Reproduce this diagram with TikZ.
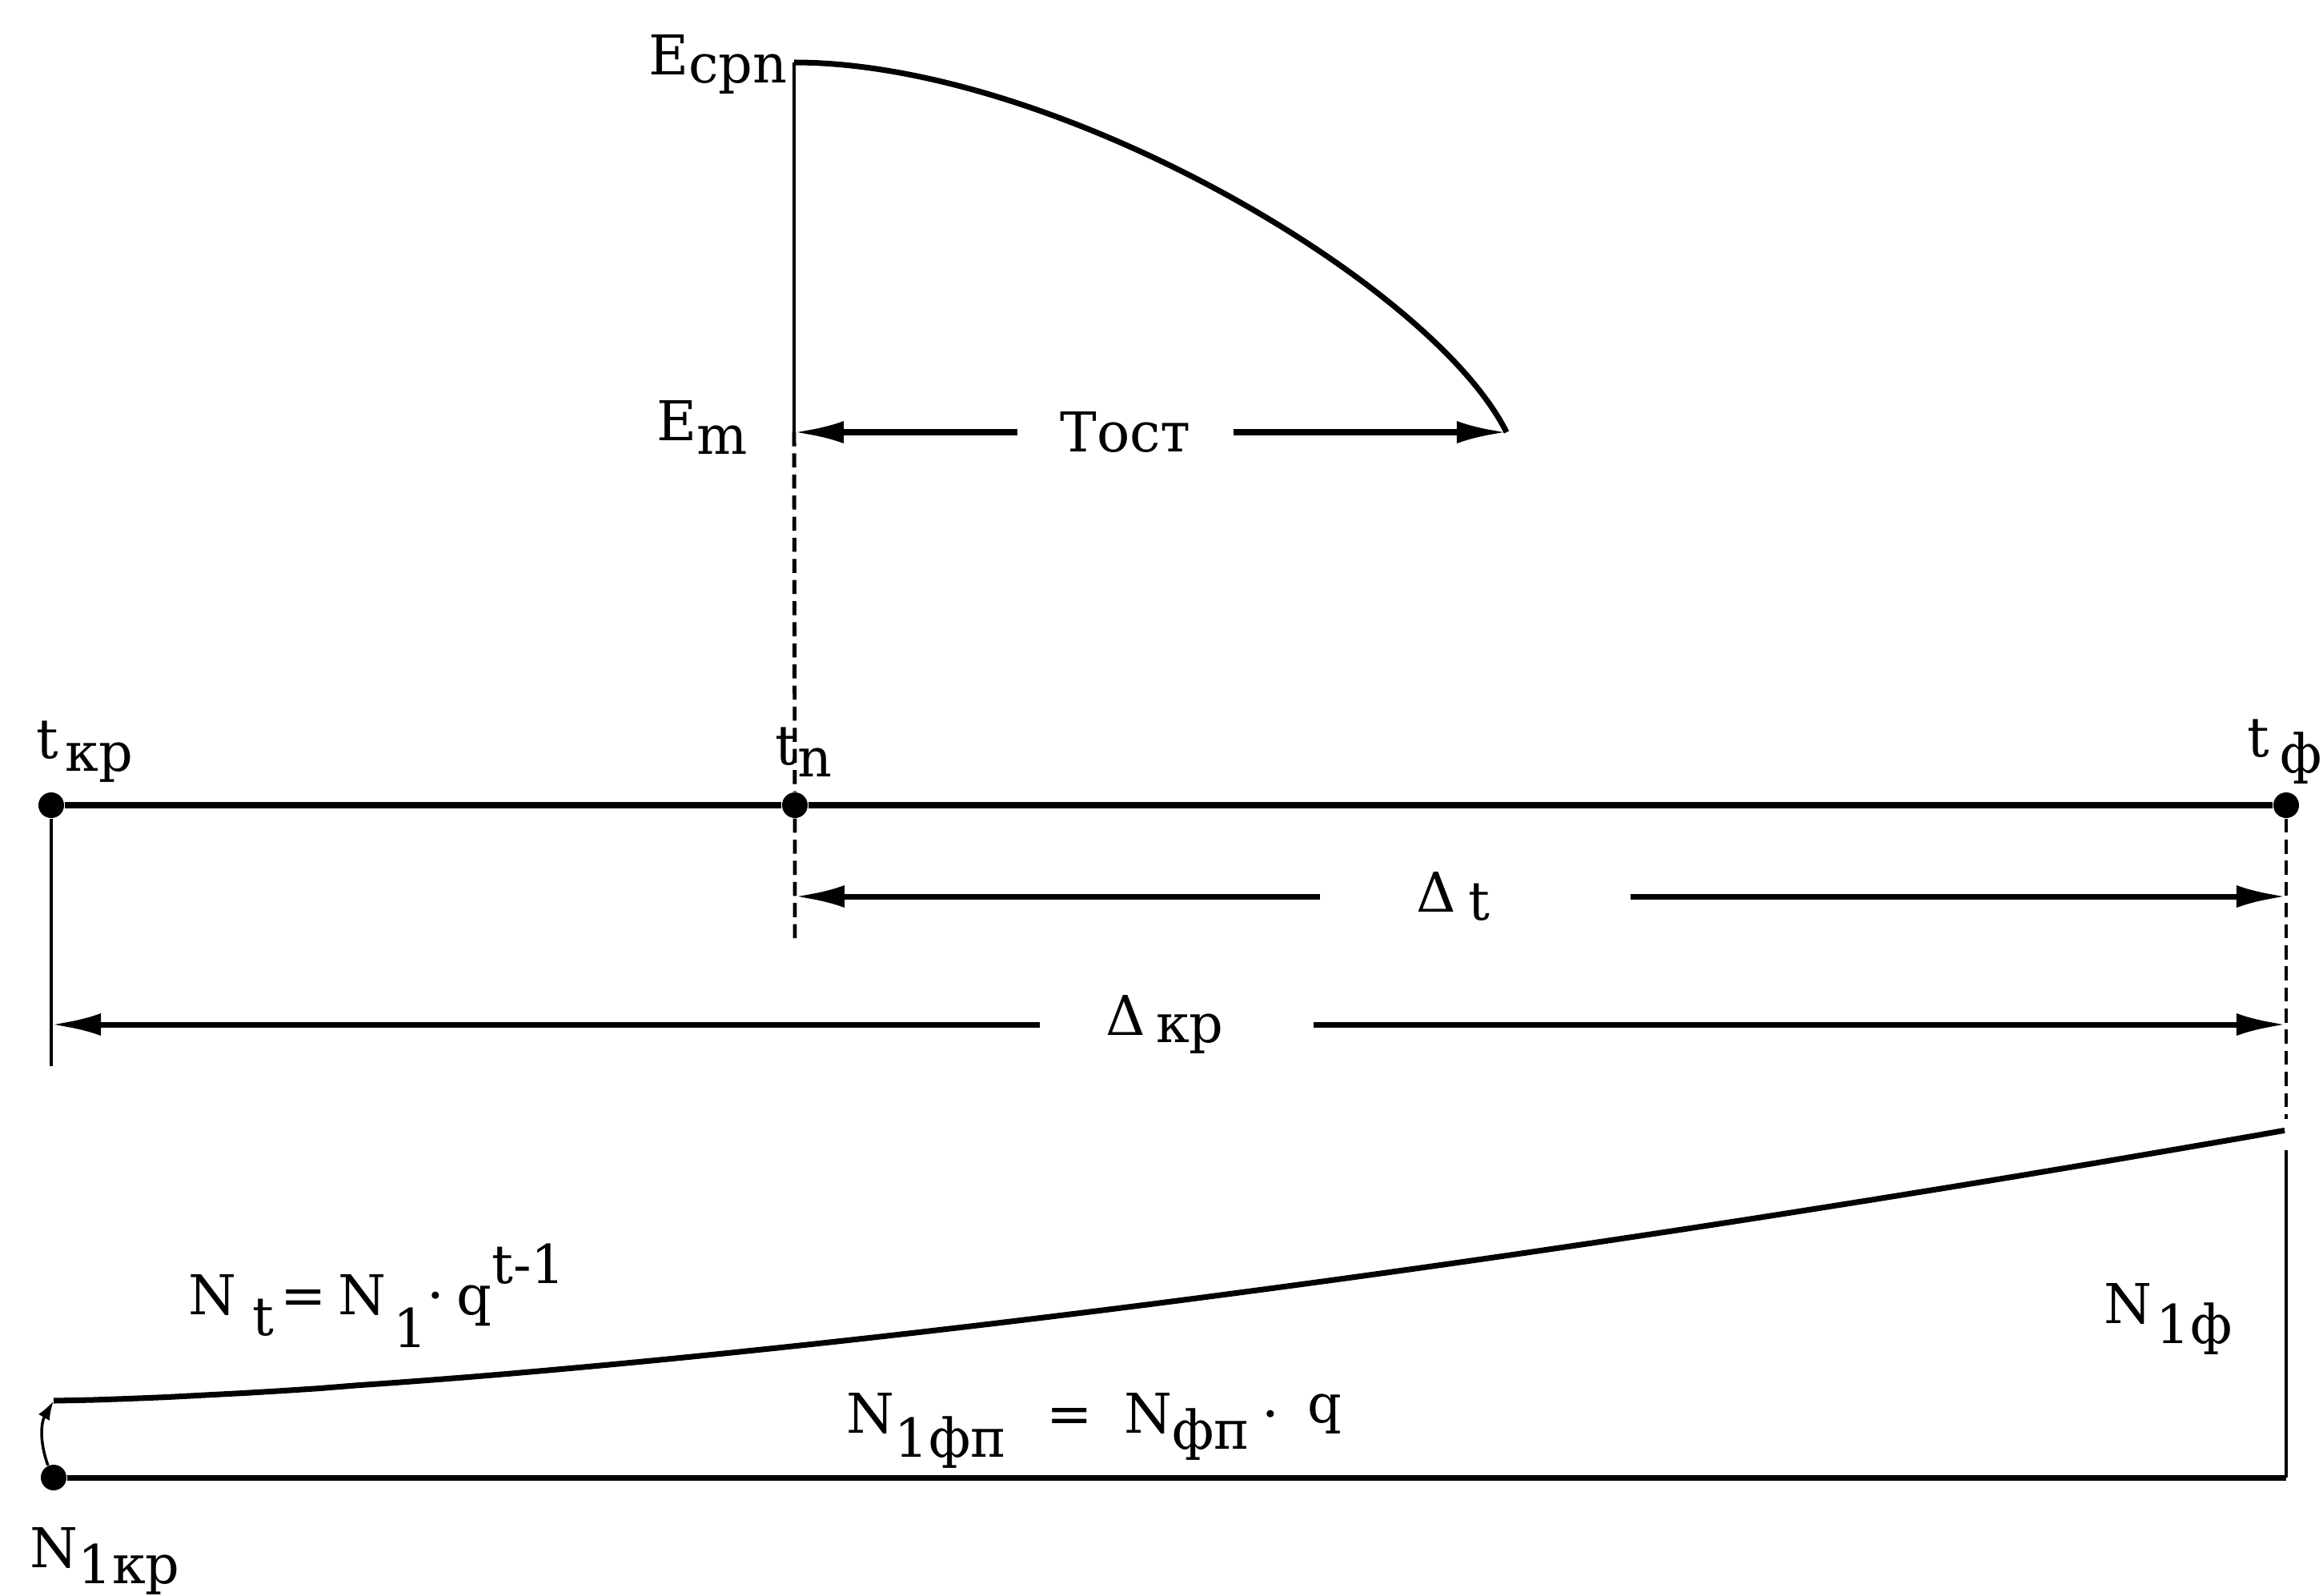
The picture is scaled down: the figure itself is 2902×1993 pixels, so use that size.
\documentclass[tikz,border=0pt]{standalone}
\usepackage{fontspec}
\setmainfont{DejaVu Serif}
\usetikzlibrary{arrows.meta,positioning}
\newcommand{\dn}[2][0.2]{\raisebox{-#1cm}{\fontsize{19}{19}\selectfont #2}}
\newcommand{\up}[2][0.35]{\raisebox{#1cm}{\fontsize{19}{19}\selectfont #2}}

\begin{document}
\begin{tikzpicture}[x=0.01cm,y=-0.01cm,
      font=\fontsize{19.5}{23}\selectfont,
      lab/.style={inner sep=0pt},
      gapnode/.style={inner sep=0pt,minimum height=.3cm},
      dot/.style={circle,fill,inner sep=0pt,minimum size=.32cm},
      axis/.style={line width=2.5pt},
      a/.style={-{Latex[length=.62cm,width=.28cm]},line width=2pt},
      ln/.style={line width=1.4pt},
      dsh/.style={line width=1.4pt,dash pattern=on 5pt off 2.5pt},
      crv/.style={line width=2pt}]
      \useasboundingbox (0,0) rectangle (2902,1993);
      \node[dot] (tkr) at (64,1006) {};
      \node[dot] (tn) at (993,1006) {};
      \node[dot] (tf) at (2856,1006) {};
      \draw[axis] (tkr) -- (tn) -- (tf);
      \node[lab,anchor=base west] (tkrlab) at (45,947) {t\hspace{.08cm}\dn[.16]{кр}};
      \node[lab,anchor=base west] (tnlab) at (968,955) {t\dn[.15]{n}};
      \node[lab,anchor=base east] (tflab) at (2901,945) {t\hspace{.13cm}\dn[.2]{ф}};
      \coordinate (etop) at (992,78);
      \coordinate (em) at (992,540);
      \coordinate (tend) at (1882,540);
      \coordinate (tnlow) at (993,1178);
      \draw[ln] (em) -- (etop);
      \draw[crv] (etop) .. controls (1320,78) and (1790,355) .. (tend);
      \draw[dsh] (em) -- (tn) -- (tnlow);
      \node[lab,anchor=base east] (esrp) at (984,93) {E\dn[.1]{cpn}};
      \node[lab,anchor=base west] (emlab) at (820,550) {E\dn[.17]{m}};
      \node[gapnode,minimum width=2.69cm] (tost) at (1406,540) {Тост};
      \draw[a] (tost) -- (em);
      \draw[a] (tost) -- (tend);
      \coordinate (dtl) at (993,1120);
      \coordinate (dtr) at (2856,1120);
      \node[gapnode,minimum width=3.86cm] (dt) at (1843,1120) {Δ\hspace{.15cm}\dn[.1]{t}\hspace{.55cm}\null};
      \draw[a] (dt) -- (dtl);
      \draw[a] (dt) -- (dtr);
      \coordinate (dkl) at (64,1280);
      \coordinate (dkr) at (2856,1280);
      \coordinate (kbot) at (64,1332);
      \node[gapnode,minimum width=3.41cm] (dkp) at (1470,1280) {Δ\hspace{.13cm}\dn[.09]{кр}\hspace{.3cm}\null};
      \draw[a] (dkp) -- (dkl);
      \draw[a] (dkp) -- (dkr);
      \draw[ln] (tkr) -- (kbot);
      \coordinate (fdash) at (2856,1398);
      \draw[dsh] (tf) -- (fdash);
      \node[dot] (n1kr) at (67,1846) {};
      \coordinate (nstart) at (67,1750);
      \coordinate (nend) at (2856,1412);
      \coordinate (nfbot) at (2856,1437);
      \coordinate (nbr) at (2856,1846);
      \draw[crv] plot[domain=0:1,samples=60] ({67+2789*\x},{1750-338*\x^1.45});
      \draw[crv] (n1kr) -- (nbr);
      \draw[ln] (nbr) -- (nfbot);
      \draw[-{Latex[length=.24cm,width=.16cm]},line width=1pt] (n1kr) to[bend left=25] (nstart);
      \node[lab,anchor=base west] (ntlab) at (235,1642) {N\hspace{.2cm}\dn[.26]{t}\hspace{.08cm}=\hspace{.15cm}N\hspace{.08cm}\dn[.41]{1}·\hspace{.15cm}q\up[.38]{t-1}};
      \node[lab,anchor=base west] (n1flab) at (2628,1653) {N\hspace{.05cm}\dn[.25]{1ф}};
      \node[lab,anchor=base west] (nfplab) at (1057,1790) {N\dn[.3]{1фп}\hspace{.5cm}=\hspace{.4cm}N\dn[.2]{фп}\hspace{.15cm}·\hspace{.35cm}\up[.13]{q}};
      \node[lab,anchor=base west] (n1krlab) at (37,1958) {N\dn[.2]{1кр}};
    \end{tikzpicture}
\end{document}
